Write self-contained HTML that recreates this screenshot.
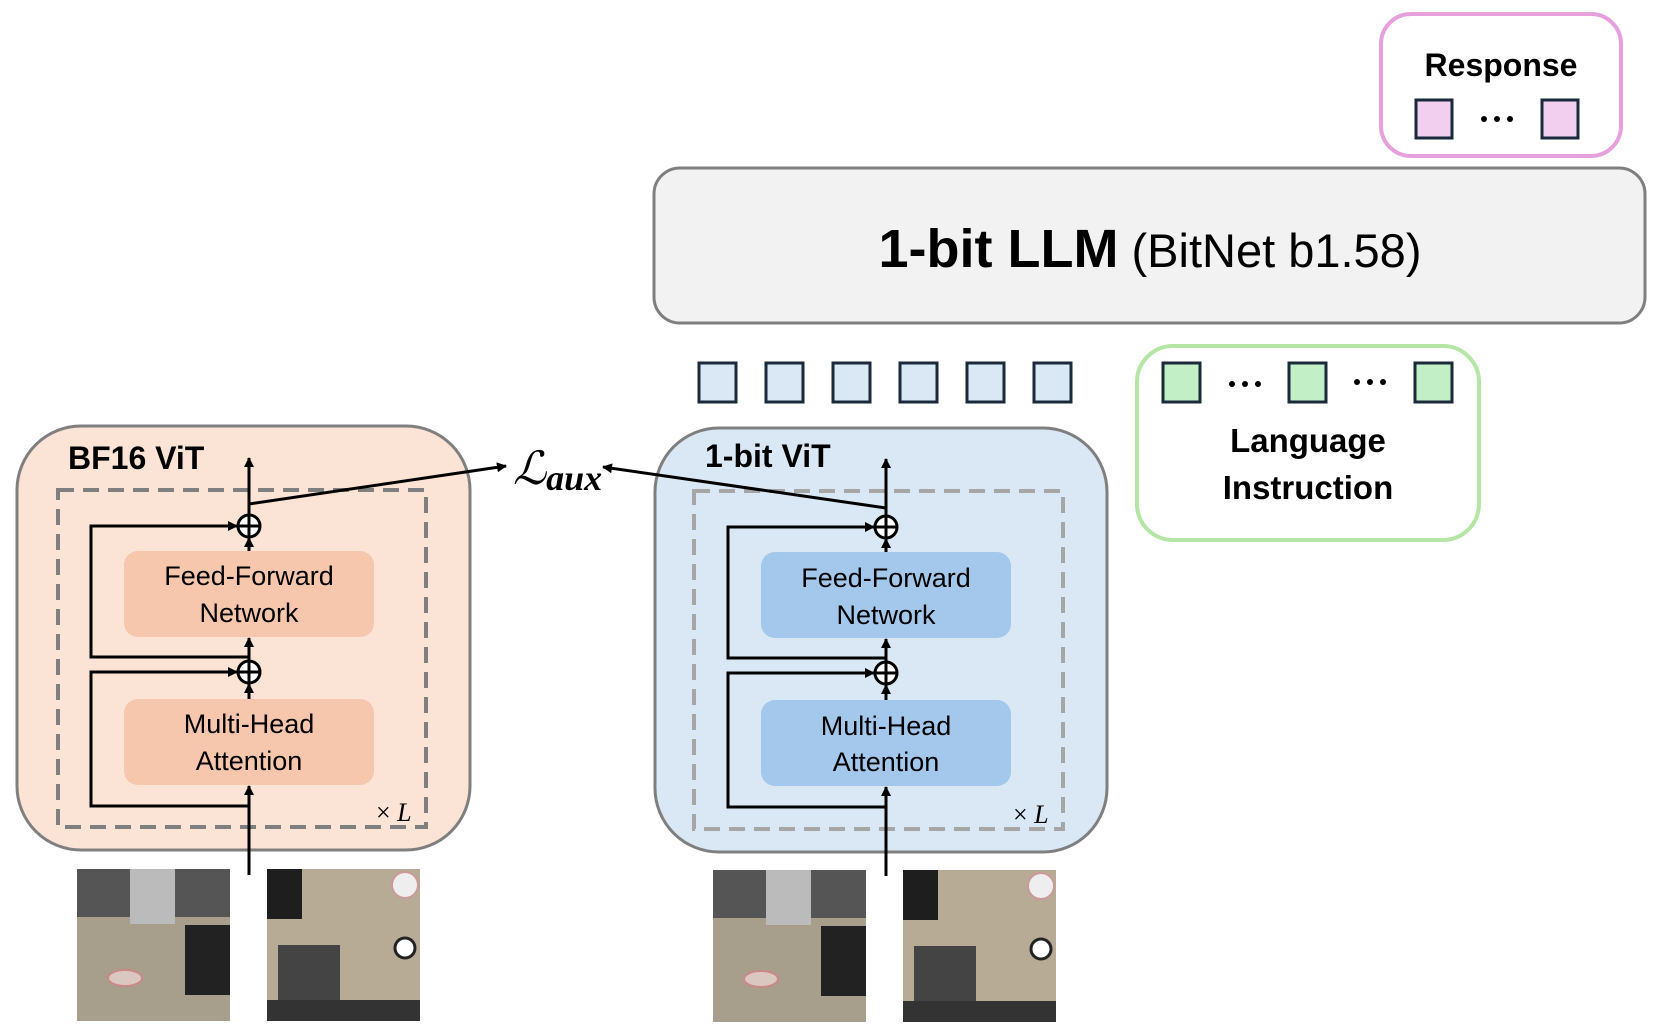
<!DOCTYPE html>
<html><head><meta charset="utf-8"><style>
html,body{margin:0;padding:0;background:#fff;}
svg{display:block;}
</style></head><body>
<svg width="1662" height="1032" viewBox="0 0 1662 1032" xmlns="http://www.w3.org/2000/svg" font-family="Liberation Sans, DejaVu Sans, sans-serif">
<defs>
<marker id="ah" markerWidth="10" markerHeight="10" refX="9" refY="5" orient="auto" markerUnits="userSpaceOnUse">
<path d="M0,0 L10,5 L0,10 z" fill="#000"/>
</marker>
</defs>

<!-- Response -->
<rect x="1381" y="14" width="240" height="142" rx="30" fill="#fff" stroke="#e6a0dc" stroke-width="4"/>
<text x="1501" y="76" font-size="32" font-weight="bold" text-anchor="middle">Response</text>
<rect x="1416" y="100" width="36" height="38" fill="#f2cfee" stroke="#1a2a3a" stroke-width="3"/>
<rect x="1542" y="100" width="36" height="38" fill="#f2cfee" stroke="#1a2a3a" stroke-width="3"/>
<g fill="#000"><circle cx="1484" cy="119" r="3"/><circle cx="1497" cy="119" r="3"/><circle cx="1510" cy="119" r="3"/></g>

<!-- LLM -->
<rect x="654" y="168" width="991" height="155" rx="26" fill="#f2f2f2" stroke="#7f7f7f" stroke-width="3"/>
<text x="1150" y="267" text-anchor="middle"><tspan font-size="54" font-weight="bold">1-bit LLM</tspan><tspan font-size="47"> (BitNet b1.58)</tspan></text>

<!-- Blue tokens -->
<g fill="#dae8f5" stroke="#1a2a3a" stroke-width="3">
<rect x="699" y="363" width="37" height="39"/>
<rect x="766" y="363" width="37" height="39"/>
<rect x="833" y="363" width="37" height="39"/>
<rect x="900" y="363" width="37" height="39"/>
<rect x="967" y="363" width="37" height="39"/>
<rect x="1034" y="363" width="37" height="39"/>
</g>

<!-- Language instruction -->
<rect x="1137" y="346" width="342" height="194" rx="36" fill="#fff" stroke="#b6e6a6" stroke-width="4"/>
<g fill="#c2efc6" stroke="#1a2a3a" stroke-width="3">
<rect x="1163" y="363" width="37" height="39"/>
<rect x="1289" y="363" width="37" height="39"/>
<rect x="1415" y="363" width="37" height="39"/>
</g>
<g fill="#000"><circle cx="1232" cy="384" r="3"/><circle cx="1245" cy="384" r="3"/><circle cx="1258" cy="384" r="3"/>
<circle cx="1357" cy="382" r="3"/><circle cx="1370" cy="382" r="3"/><circle cx="1383" cy="382" r="3"/></g>
<text x="1308" y="452" font-size="33" font-weight="bold" text-anchor="middle">Language</text>
<text x="1308" y="499" font-size="33" font-weight="bold" text-anchor="middle">Instruction</text>

<!-- BF16 ViT -->
<rect x="17" y="426" width="453" height="424" rx="64" fill="#fbe3d6" stroke="#7f7f7f" stroke-width="3"/>
<rect x="58" y="490" width="368" height="337" fill="none" stroke="#7f7f7f" stroke-width="4" stroke-dasharray="16,9"/>
<text x="68" y="469" font-size="32" font-weight="bold">BF16 ViT</text>
<rect x="124" y="551" width="250" height="86" rx="14" fill="#f6c6ad"/>
<text x="249" y="585" font-size="27" text-anchor="middle">Feed-Forward</text>
<text x="249" y="622" font-size="27" text-anchor="middle">Network</text>
<rect x="124" y="699" width="250" height="86" rx="14" fill="#f6c6ad"/>
<text x="249" y="733" font-size="27" text-anchor="middle">Multi-Head</text>
<text x="249" y="770" font-size="27" text-anchor="middle">Attention</text>
<text x="376" y="821" font-size="26" font-family="Liberation Serif, serif">× <tspan font-style="italic">L</tspan></text>

<!-- Blue ViT -->
<rect x="655" y="428" width="452" height="424" rx="64" fill="#dae8f5" stroke="#7f7f7f" stroke-width="3"/>
<rect x="694" y="491" width="369" height="338" fill="none" stroke="#a6a6a6" stroke-width="4" stroke-dasharray="16,9"/>
<text x="705" y="467" font-size="32" font-weight="bold">1-bit ViT</text>
<rect x="761" y="552" width="250" height="86" rx="14" fill="#a3c8ec"/>
<text x="886" y="587" font-size="27" text-anchor="middle">Feed-Forward</text>
<text x="886" y="624" font-size="27" text-anchor="middle">Network</text>
<rect x="761" y="700" width="250" height="86" rx="14" fill="#a3c8ec"/>
<text x="886" y="735" font-size="27" text-anchor="middle">Multi-Head</text>
<text x="886" y="771" font-size="27" text-anchor="middle">Attention</text>
<text x="1013" y="823" font-size="26" font-family="Liberation Serif, serif">× <tspan font-style="italic">L</tspan></text>

<!-- connectors left -->
<g stroke="#000" stroke-width="3" fill="none">
<line x1="249" y1="875" x2="249" y2="786" marker-end="url(#ah)"/>
<polyline points="249,806 91,806 91,672 237,672" marker-end="url(#ah)"/>
<line x1="249" y1="699" x2="249" y2="684" marker-end="url(#ah)"/>
<line x1="249" y1="661" x2="249" y2="638" marker-end="url(#ah)"/>
<polyline points="249,657 91,657 91,526 237,526" marker-end="url(#ah)"/>
<line x1="249" y1="551" x2="249" y2="538" marker-end="url(#ah)"/>
<line x1="249" y1="515" x2="249" y2="458" marker-end="url(#ah)"/>
<circle cx="249" cy="526" r="11" fill="#fff"/>
<line x1="238" y1="526" x2="260" y2="526"/><line x1="249" y1="515" x2="249" y2="537"/>
<circle cx="249" cy="672" r="11" fill="#fff"/>
<line x1="238" y1="672" x2="260" y2="672"/><line x1="249" y1="661" x2="249" y2="683"/>
<line x1="249" y1="504" x2="506" y2="466" marker-end="url(#ah)"/>
</g>
<!-- connectors right -->
<g stroke="#000" stroke-width="3" fill="none">
<line x1="886" y1="876" x2="886" y2="787" marker-end="url(#ah)"/>
<polyline points="886,807 728,807 728,673 874,673" marker-end="url(#ah)"/>
<line x1="886" y1="700" x2="886" y2="685" marker-end="url(#ah)"/>
<line x1="886" y1="662" x2="886" y2="639" marker-end="url(#ah)"/>
<polyline points="886,658 728,658 728,527 874,527" marker-end="url(#ah)"/>
<line x1="886" y1="552" x2="886" y2="539" marker-end="url(#ah)"/>
<line x1="886" y1="516" x2="886" y2="459" marker-end="url(#ah)"/>
<circle cx="886" cy="527" r="11" fill="#fff"/>
<line x1="875" y1="527" x2="897" y2="527"/><line x1="886" y1="516" x2="886" y2="538"/>
<circle cx="886" cy="673" r="11" fill="#fff"/>
<line x1="875" y1="673" x2="897" y2="673"/><line x1="886" y1="662" x2="886" y2="684"/>
<line x1="886" y1="508" x2="603" y2="467" marker-end="url(#ah)"/>
</g>

<text x="513" y="484" font-size="46" font-family="Liberation Serif, serif" font-style="italic">ℒ<tspan font-size="36" font-weight="bold" dy="6">aux</tspan></text>

<!-- images -->
<g>
<rect x="77" y="869" width="153" height="152" fill="#a89e8c"/>
<rect x="77" y="869" width="153" height="48" fill="#555"/>
<rect x="130" y="869" width="45" height="55" fill="#bbb"/>
<rect x="185" y="925" width="45" height="70" fill="#222"/>
<ellipse cx="125" cy="978" rx="17" ry="8" fill="#d9c7c0" stroke="#c88" stroke-width="2"/>
<rect x="267" y="869" width="153" height="152" fill="#b8ab95"/>
<rect x="267" y="869" width="35" height="50" fill="#1e1e1e"/>
<rect x="278" y="945" width="62" height="76" fill="#444"/>
<rect x="267" y="1000" width="153" height="21" fill="#333"/>
<circle cx="405" cy="885" r="13" fill="#eee" stroke="#c99" stroke-width="2"/>
<circle cx="405" cy="948" r="10" fill="#fff" stroke="#222" stroke-width="3"/>

<rect x="713" y="870" width="153" height="152" fill="#a89e8c"/>
<rect x="713" y="870" width="153" height="48" fill="#555"/>
<rect x="766" y="870" width="45" height="55" fill="#bbb"/>
<rect x="821" y="926" width="45" height="70" fill="#222"/>
<ellipse cx="761" cy="979" rx="17" ry="8" fill="#d9c7c0" stroke="#c88" stroke-width="2"/>
<rect x="903" y="870" width="153" height="152" fill="#b8ab95"/>
<rect x="903" y="870" width="35" height="50" fill="#1e1e1e"/>
<rect x="914" y="946" width="62" height="76" fill="#444"/>
<rect x="903" y="1001" width="153" height="21" fill="#333"/>
<circle cx="1041" cy="886" r="13" fill="#eee" stroke="#c99" stroke-width="2"/>
<circle cx="1041" cy="949" r="10" fill="#fff" stroke="#222" stroke-width="3"/>
</g>
</svg>
</body></html>
